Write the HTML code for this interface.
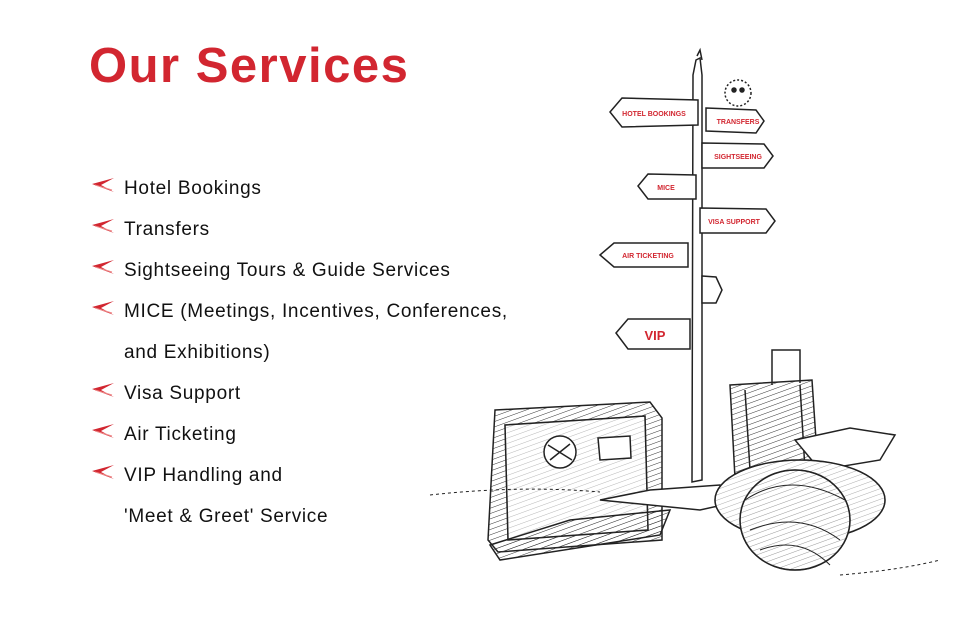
<!DOCTYPE html>
<html><head><meta charset="utf-8"><style>
html,body{margin:0;padding:0;background:#fff;}
body{width:970px;height:620px;position:relative;overflow:hidden;font-family:"Liberation Sans",sans-serif;}
h1{position:absolute;left:89px;top:37px;margin:0;font-size:49px;font-weight:bold;color:#d22630;letter-spacing:1.5px;line-height:58px;}
.item{position:absolute;left:124px;font-size:19px;color:#111;line-height:22px;letter-spacing:0.7px;}
.b{position:absolute;left:92px;width:22px;height:14px;}
</style></head><body>
<h1>Our Services</h1>
<svg width="0" height="0" style="position:absolute"><defs><g id="bul"><path d="M0 6 L22 0 L9 7 L22 14 Z" fill="#d22630"/><path d="M3 7 L20 12" stroke="#e88" stroke-width="1"/></g>
<pattern id="h" width="5" height="5" patternUnits="userSpaceOnUse" patternTransform="rotate(70)"><line x1="0" y1="0" x2="0" y2="5" stroke="#333" stroke-width="1"/></pattern></defs></svg>
<svg class="b" style="top:178px" viewBox="0 0 22 14"><use href="#bul"/></svg>
<div class="item" style="top:178px">Hotel Bookings</div>
<svg class="b" style="top:219px" viewBox="0 0 22 14"><use href="#bul"/></svg>
<div class="item" style="top:219px">Transfers</div>
<svg class="b" style="top:260px" viewBox="0 0 22 14"><use href="#bul"/></svg>
<div class="item" style="top:260px">Sightseeing Tours &amp; Guide Services</div>
<svg class="b" style="top:301px" viewBox="0 0 22 14"><use href="#bul"/></svg>
<div class="item" style="top:301px">MICE (Meetings, Incentives, Conferences,</div>
<div class="item" style="top:342px">and Exhibitions)</div>
<svg class="b" style="top:383px" viewBox="0 0 22 14"><use href="#bul"/></svg>
<div class="item" style="top:383px">Visa Support</div>
<svg class="b" style="top:424px" viewBox="0 0 22 14"><use href="#bul"/></svg>
<div class="item" style="top:424px">Air Ticketing</div>
<svg class="b" style="top:465px" viewBox="0 0 22 14"><use href="#bul"/></svg>
<div class="item" style="top:465px">VIP Handling and</div>
<div class="item" style="top:506px">'Meet &amp; Greet' Service</div>

<svg style="position:absolute;left:0;top:0" width="970" height="620" viewBox="0 0 970 620" fill="none" stroke="#222" stroke-width="1.5">
<path d="M696 60 L700 58 L702 75 L702 480 L692 482 L693 75 Z" fill="#fff"/>
<path d="M697 56 L700 50 L702 60"/>
<circle cx="738" cy="93" r="13" stroke-dasharray="2 2"/>
<circle cx="734" cy="90" r="2" fill="#222"/><circle cx="742" cy="90" r="2" fill="#222"/>
<g font-family="Liberation Sans,sans-serif" font-weight="bold" fill="#d22630" stroke="none" text-anchor="middle">
<path d="M610 112 L622 98 L698 100 L698 125 L622 127 Z" fill="#fff" stroke="#222"/>
<text x="654" y="116" font-size="7">HOTEL BOOKINGS</text>
<path d="M706 108 L756 110 L764 121 L756 133 L706 131 Z" fill="#fff" stroke="#222"/>
<text x="738" y="124" font-size="7">TRANSFERS</text>
<path d="M702 143 L764 144 L773 156 L764 168 L702 168 Z" fill="#fff" stroke="#222"/>
<text x="738" y="159" font-size="7">SIGHTSEEING</text>
<path d="M638 186 L648 174 L696 175 L696 199 L648 199 Z" fill="#fff" stroke="#222"/>
<text x="666" y="190" font-size="7">MICE</text>
<path d="M700 208 L766 209 L775 221 L766 233 L700 233 Z" fill="#fff" stroke="#222"/>
<text x="734" y="224" font-size="7">VISA SUPPORT</text>
<path d="M600 255 L614 243 L688 243 L688 267 L614 267 Z" fill="#fff" stroke="#222"/>
<text x="648" y="258" font-size="7">AIR TICKETING</text>
<path d="M702 276 L716 277 L722 290 L716 303 L702 303 Z" fill="#fff" stroke="#222"/>
<path d="M616 333 L628 319 L690 319 L690 349 L628 349 Z" fill="#fff" stroke="#222"/>
<text x="655" y="340" font-size="13">VIP</text>
</g>
<path d="M495 410 L650 402 L662 418 L662 540 L498 552 L488 540 Z" fill="url(#h)"/>
<path d="M505 425 L645 416 L648 530 L508 540 Z" fill="#fff"/>
<path d="M505 425 L645 416 L648 530 L508 540 Z" fill="url(#h)" opacity="0.35"/>
<circle cx="560" cy="452" r="16" fill="#fff"/><path d="M548 445 L572 460 M550 460 L570 444"/>
<path d="M598 438 L630 436 L631 458 L600 460 Z" fill="#fff"/>
<path d="M730 385 L812 380 L818 470 L735 478 Z" fill="url(#h)"/>
<path d="M772 385 L772 350 L800 350 L800 383"/>
<path d="M745 390 L750 470 M800 385 L805 470"/>
<path d="M795 440 L850 428 L895 435 L880 460 L820 470 Z" fill="#fff"/>
<path d="M600 500 L650 490 L720 485 L745 500 L700 510 Z" fill="#fff"/>
<path d="M490 545 L570 520 L670 510 L660 535 L500 560 Z" fill="url(#h)"/>
<ellipse cx="800" cy="500" rx="85" ry="40" fill="#fff"/>
<ellipse cx="800" cy="500" rx="85" ry="40" fill="url(#h)" opacity="0.4"/>
<ellipse cx="795" cy="520" rx="55" ry="50" fill="#fff"/>
<ellipse cx="795" cy="520" rx="55" ry="50" fill="url(#h)" opacity="0.5"/>
<path d="M745 500 Q790 470 845 500 M750 530 Q800 510 840 540 M760 550 Q800 535 830 565" stroke-width="1"/>
<path d="M430 495 Q520 485 600 492 M840 575 Q900 570 940 560" stroke-width="1" stroke-dasharray="3 3"/>
</svg>
</body></html>
